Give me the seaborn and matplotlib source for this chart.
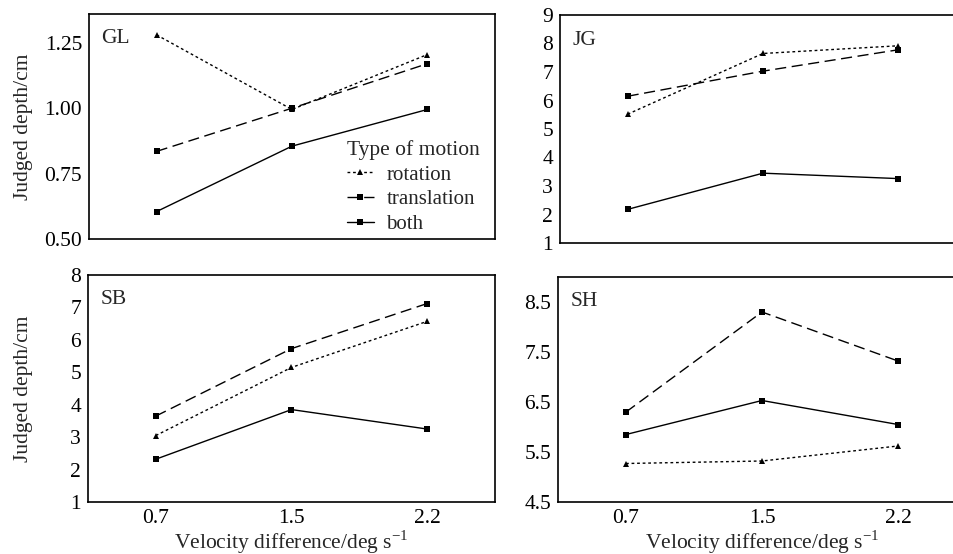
import numpy as np
import pandas as pd
import matplotlib
matplotlib.use("Agg")
import matplotlib.pyplot as plt
import seaborn as sns

velocity = ["0.7", "1.5", "2.2"]
motions = ["rotation", "translation", "both"]
subjects = ["GL", "JG", "SB", "SH"]

gl_rotation = [1.28, 0.995, 1.205]
gl_translation = [0.835, 1.00, 1.17]
gl_both = [0.605, 0.855, 0.995]

jg_rotation = [5.52, 7.65, 7.92]
jg_translation = [6.15, 7.03, 7.78]
jg_both = [2.18, 3.45, 3.26]

sb_rotation = [3.05, 5.15, 6.57]
sb_translation = [3.65, 5.73, 7.12]
sb_both = [2.32, 3.85, 3.25]

sh_rotation = [5.27, 5.32, 5.62]
sh_translation = [6.30, 8.30, 7.32]
sh_both = [5.85, 6.53, 6.05]

series = {
    "GL": [gl_rotation, gl_translation, gl_both],
    "JG": [jg_rotation, jg_translation, jg_both],
    "SB": [sb_rotation, sb_translation, sb_both],
    "SH": [sh_rotation, sh_translation, sh_both],
}

y_limits = {"GL": (0.5, 1.36), "JG": (1, 9), "SB": (1, 8), "SH": (4.5, 9.0)}
y_ticks = {
    "GL": [0.5, 0.75, 1.0, 1.25],
    "JG": [1, 2, 3, 4, 5, 6, 7, 8, 9],
    "SB": [1, 2, 3, 4, 5, 6, 7, 8],
    "SH": [4.5, 5.5, 6.5, 7.5, 8.5],
}
y_ticklabels = {
    "GL": ["0.50", "0.75", "1.00", "1.25"],
    "JG": [str(v) for v in y_ticks["JG"]],
    "SB": [str(v) for v in y_ticks["SB"]],
    "SH": ["4.5", "5.5", "6.5", "7.5", "8.5"],
}

rows = []
for s in subjects:
    for m, vals in zip(motions, series[s]):
        for v, d in zip(velocity, vals):
            rows.append({"subject": s, "motion": m, "velocity": v, "depth": d})
df = pd.DataFrame(rows)

sns.set_style("white")
plt.rcParams["font.family"] = ["Liberation Serif", "DejaVu Serif"]
plt.rcParams["mathtext.fontset"] = "custom"
plt.rcParams["mathtext.rm"] = "Liberation Serif"

W, H = 954, 554
fig = plt.figure(figsize=(W / 100, H / 100), dpi=100)

boxes = {
    "GL": (89, 14, 406, 225),
    "JG": (560, 15, 406, 228),
    "SB": (88, 275, 407, 227),
    "SH": (558, 277, 408, 225),
}

dashes = {"rotation": (2, 2), "translation": (8, 4), "both": ""}
markers = {"rotation": "^", "translation": "s", "both": "s"}

for s in subjects:
    x0, y0, w, h = boxes[s]
    ax = fig.add_axes([x0 / W, 1 - (y0 + h) / H, w / W, h / H])
    sub = df[df["subject"] == s]
    sns.lineplot(
        data=sub, x="velocity", y="depth", style="motion",
        style_order=motions, dashes=dashes, markers=markers,
        color="black", linewidth=1.0, markersize=4,
        markeredgewidth=0, ax=ax, legend=(s == "GL"), sort=False,
    )
    ax.set_xlim(-0.5, 2.5)
    ax.set_ylim(*y_limits[s])
    ax.set_yticks(y_ticks[s])
    ax.set_yticklabels(y_ticklabels[s])
    ax.tick_params(axis="both", labelsize=15.5, length=2, direction="in",
                   pad=5, colors="black")
    for sp in ax.spines.values():
        sp.set_color("black")
        sp.set_linewidth(1.2)
    ax.text(0.03, 0.89, s, transform=ax.transAxes, fontsize=15.5,
            va="center", ha="left")
    ax.set_xlabel("")
    ax.set_ylabel("")
    if s in ("GL", "JG"):
        ax.set_xticklabels([])
        ax.tick_params(axis="x", length=2)
    if s in ("GL", "SB"):
        ax.set_ylabel("Judged depth/cm", fontsize=15.5)
        ax.yaxis.set_label_coords((33 - x0) / w, 0.5)
    if s in ("SB", "SH"):
        ax.set_xlabel("Velocity difference/deg s$^{-1}$", fontsize=15.5,
                      labelpad=0)
    if s == "GL":
        leg = ax.legend(title="Type of motion", loc="upper left",
                        bbox_to_anchor=(0.635, 0.44), frameon=False,
                        fontsize=15, title_fontsize=15.5, handlelength=1.3,
                        handletextpad=0.6, labelspacing=0.25,
                        borderaxespad=0, borderpad=0)
        leg._legend_box.align = "left"

fig.savefig("out.png", dpi=100)
